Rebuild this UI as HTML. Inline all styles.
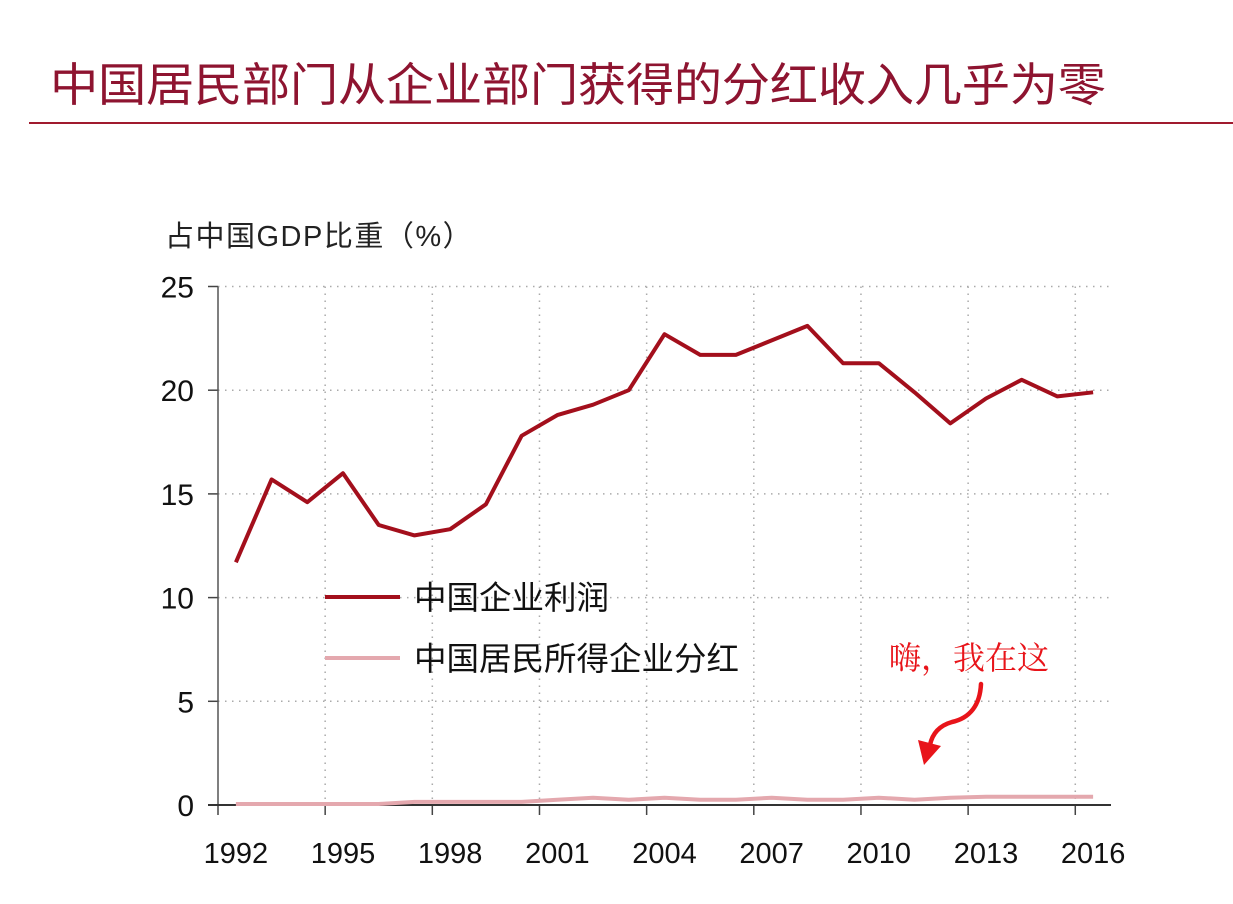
<!DOCTYPE html>
<html><head><meta charset="utf-8"><style>
html,body{margin:0;padding:0;background:#fff;}
body{width:1233px;height:904px;overflow:hidden;position:relative;}
.t{position:absolute;white-space:nowrap;}
</style></head><body>
<div class="t" style="left:50px;top:49px;font-family:'Liberation Sans','Noto Sans CJK SC',sans-serif;font-size:46px;color:#8e1430;letter-spacing:-0.3px;transform:scaleX(1.05);transform-origin:left top;">中国居民部门从企业部门获得的分红收入几乎为零</div>
<div style="position:absolute;left:29px;top:122px;width:1204px;height:2px;background:#a01a2e;"></div>
<svg id="chart" width="1233" height="904" style="position:absolute;left:0;top:0;" xmlns="http://www.w3.org/2000/svg"></svg>
<script>
const years=[1992,1993,1994,1995,1996,1997,1998,1999,2000,2001,2002,2003,2004,2005,2006,2007,2008,2009,2010,2011,2012,2013,2014,2015,2016];
const profit=[11.7,15.7,14.6,16.0,13.5,13.0,13.3,14.5,17.8,18.8,19.3,20.0,22.7,21.7,21.7,22.4,23.1,21.3,21.3,19.9,18.4,19.6,20.5,19.7,19.9];
const dividend=[0.05,0.05,0.05,0.05,0.05,0.15,0.15,0.15,0.15,0.25,0.35,0.25,0.35,0.25,0.25,0.35,0.25,0.25,0.35,0.25,0.35,0.4,0.4,0.4,0.4];
const yTicks=[0,5,10,15,20,25];
const xTickLabels=["1992","1995","1998","2001","2004","2007","2010","2013","2016"];
const seriesNames=["中国企业利润","中国居民所得企业分红"];

const NS="http://www.w3.org/2000/svg";
const svg=document.getElementById('chart');
const X0=218,STEP=35.72,Y0=805,YS=20.74,XR=X0+STEP*years.length;
const xc=i=>X0+STEP*(i+0.5);
const yv=v=>Y0-v*YS;
function mk(tag,attrs,parent){const e=document.createElementNS(NS,tag);for(const k in attrs)e.setAttribute(k,attrs[k]);(parent||svg).appendChild(e);return e;}

yTicks.forEach(v=>{
  if(v>0){const g=mk('line',{x1:X0,x2:XR,y1:yv(v),y2:yv(v),stroke:'#aaa','stroke-width':1.5,'stroke-dasharray':'1.5 5.5'});
  
  }
  const tk=mk('line',{x1:X0-10,x2:X0,y1:yv(v),y2:yv(v),stroke:'#444','stroke-width':1.5});
  
  
  const t=mk('text',{x:X0-24,y:yv(v)+11,'text-anchor':'end','font-family':'Liberation Sans,sans-serif','font-size':30,fill:'#111'});
  t.textContent=v;
  
  
});
for(let k=0;k<=years.length;k+=3){
  const x=X0+STEP*k;
  if(k>0){const g=mk('line',{x1:x,x2:x,y1:yv(25),y2:Y0,stroke:'#aaa','stroke-width':1.5,'stroke-dasharray':'1.5 5.5'});
  
  }
  const tk=mk('line',{x1:x,x2:x,y1:Y0,y2:Y0+10,stroke:'#444','stroke-width':1.5});
  
  
}
xTickLabels.forEach((lab,j)=>{
  const t=mk('text',{x:xc(j*3),y:863,'text-anchor':'middle','font-family':'Liberation Sans,sans-serif','font-size':29,fill:'#111'});
  t.textContent=lab;
  
  
});
const ya=mk('line',{x1:X0,x2:X0,y1:yv(25),y2:Y0,stroke:'#555','stroke-width':1.5});


const xa=mk('line',{x1:X0-10,x2:XR,y1:Y0,y2:Y0,stroke:'#333','stroke-width':2});


const pd=dividend.map((v,i)=>(i?'L':'M')+xc(i).toFixed(1)+' '+yv(v).toFixed(1)).join(' ');
const l2=mk('path',{d:pd,fill:'none',stroke:'#e4a8ae','stroke-width':4,'stroke-linejoin':'round'});


const pp=profit.map((v,i)=>(i?'L':'M')+xc(i).toFixed(1)+' '+yv(v).toFixed(1)).join(' ');
const l1=mk('path',{d:pp,fill:'none',stroke:'#a30f1c','stroke-width':4,'stroke-linejoin':'round'});


[['#a30f1c',4,597],['#e4a8ae',4,658]].forEach((s,i)=>{
  const g=mk('g',{});
  
  
  mk('line',{x1:325,x2:400,y1:s[2],y2:s[2],stroke:s[0],'stroke-width':s[1]},g);
  const t=mk('text',{x:414,y:s[2]+12,'font-family':'Liberation Sans,Noto Sans CJK SC,sans-serif','font-size':32.5,fill:'#111'},g);
  t.textContent=seriesNames[i];
});
</script>
<div class="t" style="left:165px;top:213px;font-family:'Liberation Sans','Noto Sans CJK SC',sans-serif;font-size:29px;color:#222;letter-spacing:1.5px;">占中国GDP比重（%）</div>
<div class="t" style="left:889px;top:633px;font-family:'Liberation Serif','Noto Serif CJK SC',serif;font-size:32px;color:#e8141a;">嗨，我在这</div>
<svg width="1233" height="904" style="position:absolute;left:0;top:0;">
<path d="M981 684 C980 705 970 718 952 722 C938 726 932 735 930 745" fill="none" stroke="#e8141a" stroke-width="4.5" stroke-linecap="round"/>
<polygon points="918,740 941,746 924,765" fill="#e8141a"/>
</svg>
</body></html>
